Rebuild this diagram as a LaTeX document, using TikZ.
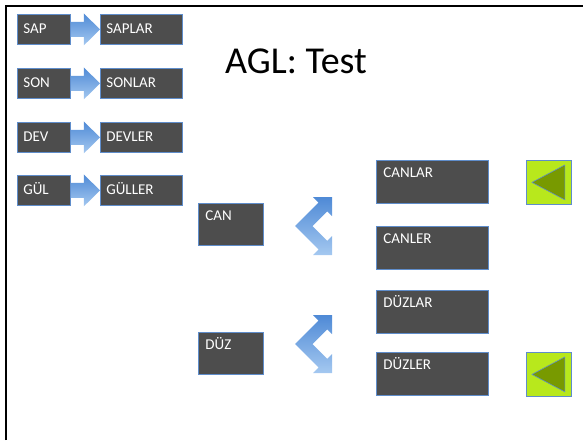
\documentclass[tikz,border=0pt]{standalone}
\usepackage{fontspec}
\setmainfont{Carlito}
\usetikzlibrary{calc}
\definecolor{boxgray}{HTML}{4D4D4D}
\definecolor{boxedge}{HTML}{5F8DCB}
\definecolor{arrowdark}{HTML}{4F8AD6}
\definecolor{arrowmid}{HTML}{6FA2E2}
\definecolor{arrowlight}{HTML}{A4C8F0}
\definecolor{limegreen}{HTML}{B8E81C}
\definecolor{olivegreen}{HTML}{789A00}

\tikzset{
  wordbox/.style={draw=boxedge, line width=0.8pt, fill=boxgray, text=white,
    font=\fontsize{15}{18}\selectfont, anchor=north west,
    inner ysep=0pt, inner xsep=6pt, align=left},
  stembox/.style={wordbox, text width=41pt, text height=19pt, text depth=11pt},
  pluralbox/.style={wordbox, text width=70pt, text height=19pt, text depth=11pt},
  rootbox/.style={wordbox, inner xsep=7pt, text width=51pt, text height=17pt, text depth=25pt},
  choicebox/.style={wordbox, inner xsep=7pt, text width=98pt, text height=17pt, text depth=26pt},
  blockarrow/.style={top color=arrowdark, bottom color=arrowlight, draw=none},
  forkarrow/.style={top color=arrowdark, middle color=arrowmid, bottom color=arrowlight, draw=none},
  markbox/.style={draw=boxedge, line width=0.8pt, fill=limegreen, anchor=north west,
    minimum width=45pt, minimum height=44pt, inner sep=0pt},
}

\begin{document}
\begin{tikzpicture}[x=1pt,y=-1pt]
        \useasboundingbox (0,0) rectangle (583,440);
        %RAHMEN
        \draw[line width=2.4pt] (6,440) -- (6,6) -- (583,6);
        %TITEL
        \node[font=\fontsize{38}{44}\selectfont, anchor=base] (title) at (296,73) {AGL: Test};
        %PLURAL-BEISPIELE
        \foreach \stem/\plural/\top [count=\i] in {SAP/SAPLAR/14, SON/SONLAR/68, DEV/DEVLER/122, GÜL/GÜLLER/175} {
            \node[stembox] (s\i) at (17,\top) {\stem};
            \node[pluralbox] (p\i) at (100,\top) {\plural};
            \shade[blockarrow] ($(s\i.east)+(0,-7.5)$) -- ($(s\i.east)+(13,-7.5)$) -- ($(s\i.east)+(13,-16)$)
                -- (p\i.west) -- ($(s\i.east)+(13,16)$) -- ($(s\i.east)+(13,7.5)$) -- ($(s\i.east)+(0,7.5)$) -- cycle;
        }
        %TEST-WOERTER
        \node[rootbox] (can) at (198,203) {CAN};
        \node[rootbox] (duz) at (198,332) {DÜZ};
        \node[choicebox] (canlar) at (376,160) {CANLAR};
        \node[choicebox] (canler) at (376,226) {CANLER};
        \node[choicebox] (duzlar) at (376,290) {DÜZLAR};
        \node[choicebox] (duzler) at (376,352) {DÜZLER};
        %GABELPFEILE
        \coordinate (canfork) at (332,226);
        \coordinate (duzfork) at (332,344);
        \foreach \fork in {canfork, duzfork} {
            \begin{scope}[shift={(\fork)}]
                \shade[forkarrow] (0,-29) -- (-19,-29) -- (-13.4,-23.4) -- (-36.8,0) -- (-13.4,23.4) -- (-19,29)
                    -- (0,29) -- (0,10) -- (-4.75,14.75) -- (-19.5,0) -- (-4.75,-14.75) -- (0,-10) -- cycle;
            \end{scope}
        }
        %MARKIERUNGEN
        \node[markbox] (mark1) at (526,160) {};
        \node[markbox] (mark2) at (526,352) {};
        \foreach \m in {mark1, mark2} {
            \filldraw[fill=olivegreen, draw=boxedge, line width=0.6pt] ($(\m.west)+(6,0)$)
                -- ($(\m.north east)+(-7,5)$) -- ($(\m.south east)+(-7,-5)$) -- cycle;
        }
    \end{tikzpicture}
\end{document}
